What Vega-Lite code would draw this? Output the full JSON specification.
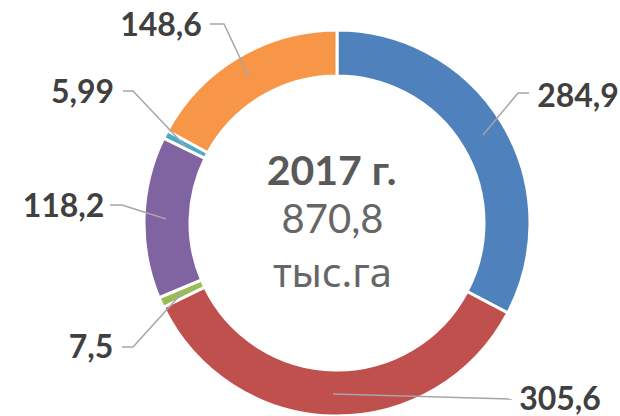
{
  "$schema": "https://vega.github.io/schema/vega-lite/v6.json",
  "width": 566,
  "height": 386,
  "autosize": {"type": "none"},
  "padding": {"left": 54, "top": 30, "right": 0, "bottom": 0},
  "background": "white",
  "config": {"view": {"stroke": null}},
  "datasets": {
    "segments": [
      {"label": "284,9", "value": 284.9, "order": 1},
      {"label": "305,6", "value": 305.6, "order": 2},
      {"label": "7,5", "value": 7.5, "order": 3},
      {"label": "118,2", "value": 118.2, "order": 4},
      {"label": "5,99", "value": 5.99, "order": 5},
      {"label": "148,6", "value": 148.6, "order": 6}
    ],
    "leaders": [
      {"label": "284,9", "p": 1, "x": 146, "y": 88},
      {"label": "284,9", "p": 2, "x": 181, "y": 130},
      {"label": "284,9", "p": 3, "x": 192, "y": 130},
      {"label": "148,6", "p": 1, "x": -127, "y": 199},
      {"label": "148,6", "p": 2, "x": -113, "y": 199},
      {"label": "148,6", "p": 3, "x": -88, "y": 146},
      {"label": "5,99", "p": 1, "x": -214, "y": 132},
      {"label": "5,99", "p": 2, "x": -204, "y": 132},
      {"label": "5,99", "p": 3, "x": -151, "y": 76},
      {"label": "118,2", "p": 1, "x": -227, "y": 18},
      {"label": "118,2", "p": 2, "x": -215, "y": 18},
      {"label": "118,2", "p": 3, "x": -171, "y": 4},
      {"label": "7,5", "p": 1, "x": -215, "y": -124},
      {"label": "7,5", "p": 2, "x": -204, "y": -124},
      {"label": "7,5", "p": 3, "x": -155, "y": -70},
      {"label": "305,6", "p": 1, "x": -4, "y": -171},
      {"label": "305,6", "p": 2, "x": 175, "y": -176}
    ],
    "labels": [
      {"label": "284,9", "x": 241, "y": 116},
      {"label": "305,6", "x": 223, "y": -187},
      {"label": "7,5", "x": -246, "y": -135},
      {"label": "118,2", "x": -273.5, "y": 6},
      {"label": "5,99", "x": -254.5, "y": 120},
      {"label": "148,6", "x": -176, "y": 187}
    ]
  },
  "layer": [
    {
      "data": {"name": "segments"},
      "mark": {"type": "arc", "outerRadius": 193, "innerRadius": 147, "stroke": "white", "strokeWidth": 3},
      "encoding": {
        "theta": {"field": "value", "type": "quantitative", "stack": true},
        "order": {"field": "order", "type": "quantitative"},
        "color": {
          "field": "label",
          "type": "nominal",
          "scale": {
            "domain": ["284,9", "305,6", "7,5", "118,2", "5,99", "148,6"],
            "range": ["#4F81BD", "#C0504D", "#9BBB59", "#8064A2", "#4BACC6", "#F79646"]
          },
          "legend": null
        }
      }
    },
    {
      "data": {"name": "leaders"},
      "mark": {"type": "line", "color": "#A6A6A6", "strokeWidth": 1.5},
      "encoding": {
        "x": {"field": "x", "type": "quantitative", "scale": {"domain": [-283, 283], "nice": false, "zero": false}, "axis": null},
        "y": {"field": "y", "type": "quantitative", "scale": {"domain": [-193, 193], "nice": false, "zero": false}, "axis": null},
        "detail": {"field": "label"},
        "order": {"field": "p", "type": "quantitative"}
      }
    },
    {
      "data": {"name": "labels"},
      "mark": {"type": "text", "font": "Lato", "fontWeight": "bold", "fontSize": 32, "color": "#404040", "align": "center", "baseline": "alphabetic"},
      "encoding": {
        "x": {"field": "x", "type": "quantitative"},
        "y": {"field": "y", "type": "quantitative"},
        "text": {"field": "label"}
      }
    },
    {
      "data": {"values": [{}]},
      "mark": {"type": "text", "text": "2017 г.", "font": "Lato, Noto Sans", "fontWeight": "bold", "fontSize": 41, "color": "#595959", "align": "center", "baseline": "alphabetic"},
      "encoding": {
        "x": {"datum": -5.5, "type": "quantitative"},
        "y": {"datum": 38, "type": "quantitative"}
      }
    },
    {
      "data": {"values": [{}]},
      "mark": {"type": "text", "text": "870,8", "font": "Lato, Noto Sans", "fontSize": 40, "color": "#666666", "align": "center", "baseline": "alphabetic"},
      "encoding": {
        "x": {"datum": -4.5, "type": "quantitative"},
        "y": {"datum": -10, "type": "quantitative"}
      }
    },
    {
      "data": {"values": [{}]},
      "mark": {"type": "text", "text": "тыс.га", "font": "Noto Sans", "fontSize": 40, "color": "#666666", "align": "center", "baseline": "alphabetic"},
      "encoding": {
        "x": {"datum": -4.5, "type": "quantitative"},
        "y": {"datum": -64, "type": "quantitative"}
      }
    }
  ]
}
